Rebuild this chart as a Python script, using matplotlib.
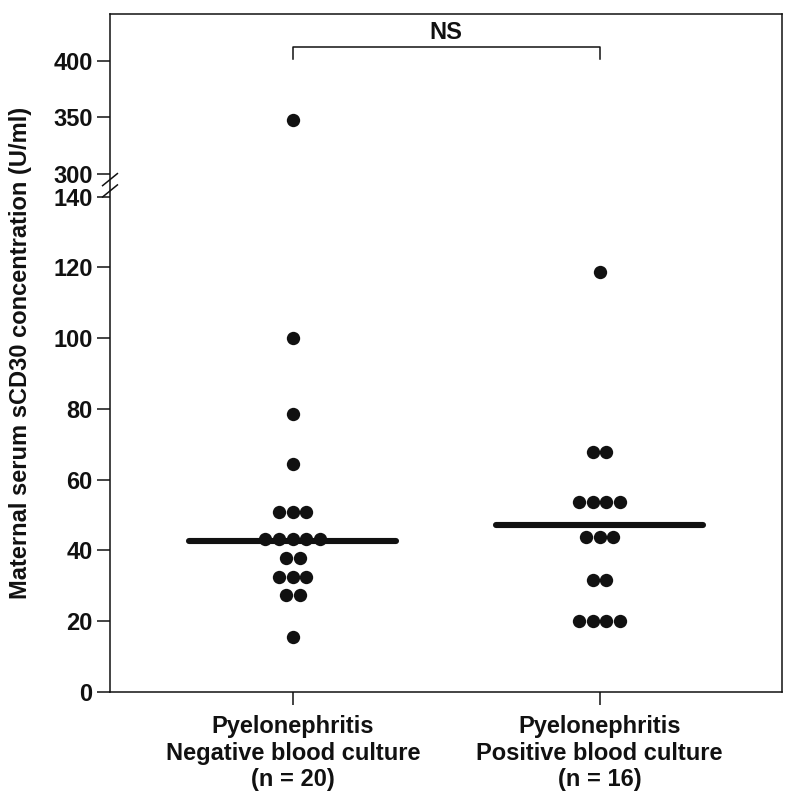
import numpy as np
import matplotlib
matplotlib.use('Agg')
import matplotlib.pyplot as plt
from matplotlib import transforms

plt.rcParams['font.family'] = ['Liberation Sans', 'DejaVu Sans']
plt.rcParams['font.weight'] = 'bold'

# values (U/ml)
neg_values = [348, 100, 78.5, 64.5,
              51, 51, 51,
              43.3, 43.3, 43.3, 43.3, 43.3,
              37.8, 37.8,
              32.6, 32.6, 32.6,
              27.4, 27.4,
              15.5]
pos_values = [118.6,
              67.7, 67.7,
              53.7, 53.7, 53.7, 53.7,
              43.9, 43.9, 43.9,
              31.7, 31.7,
              20.2, 20.2, 20.2, 20.2]
center_lines = [42.8, 47.2]
group_labels = ['Pyelonephritis\nNegative blood culture\n(n = 20)',
                'Pyelonephritis\nPositive blood culture\n(n = 16)']
yticks = [0, 20, 40, 60, 80, 100, 120, 140, 300, 350, 400]
ylabel = 'Maternal serum sCD30 concentration (U/ml)'
sig_text = 'NS'

# broken y axis: 0-140 linear, gap, then 300+ compressed
LOW_TOP = 140.0
HIGH_BOT = 300.0
GAP = 6.4
HIGH_SCALE = 0.3205


def fwd(v):
    v = np.asarray(v, dtype=float)
    return np.where(v <= LOW_TOP, v,
                    np.where(v >= HIGH_BOT,
                             LOW_TOP + GAP + (v - HIGH_BOT) * HIGH_SCALE,
                             LOW_TOP + (v - LOW_TOP) * GAP / (HIGH_BOT - LOW_TOP)))


def inv(y):
    y = np.asarray(y, dtype=float)
    return np.where(y <= LOW_TOP, y,
                    np.where(y >= LOW_TOP + GAP,
                             HIGH_BOT + (y - LOW_TOP - GAP) / HIGH_SCALE,
                             LOW_TOP + (y - LOW_TOP) * (HIGH_BOT - LOW_TOP) / GAP))


def swarm_offsets(vals, step):
    vals = np.asarray(vals)
    offs = np.zeros(len(vals))
    for v in np.unique(vals):
        idx = np.where(vals == v)[0]
        n = len(idx)
        offs[idx] = (np.arange(n) - (n - 1) / 2) * step
    return offs


fig = plt.figure(figsize=(8, 8.02), dpi=100)
ax = fig.add_axes([110 / 800, 110 / 802, 672 / 800, 678 / 802])
ax.set_yscale('function', functions=(fwd, inv))

ymax = float(inv(191.6))
ax.set_ylim(0, ymax)
ax.set_xlim(0.404, 2.595)

col = '#111111'
step = 0.0446
for i, vals in enumerate([neg_values, pos_values]):
    xpos = i + 1
    ax.plot([xpos - 0.337, xpos + 0.337], [center_lines[i]] * 2, color=col,
            lw=4.4, solid_capstyle='round', zorder=2)
    ax.plot(xpos + swarm_offsets(vals, step), vals, 'o', color=col,
            ms=9.6, mew=0, zorder=3)

# significance bracket
ax.plot([1, 1, 2, 2], [401, 412, 412, 401], color=col, lw=1.1, clip_on=False)
ax.text(1.5, 425, sig_text, ha='center', va='center', fontsize=17,
        fontweight='bold', color=col)

ax.set_yticks(yticks)
ax.set_yticklabels([str(t) for t in yticks])
ax.set_xticks([1, 2])
ax.set_xticklabels(group_labels, linespacing=1.2)
ax.tick_params(axis='both', length=9.5, width=1.1, color=col, labelsize=17,
               labelcolor=col, pad=3)
ax.tick_params(axis='x', pad=7)
for s in ax.spines.values():
    s.set_linewidth(1.1)
    s.set_color(col)

ax.set_ylabel(ylabel, fontsize=17, fontweight='bold', color=col, labelpad=15)

# break marks on the left spine
trans = transforms.blended_transform_factory(ax.transAxes, ax.transData)
dx = 0.011
for yc in [LOW_TOP + 1.6, LOW_TOP + GAP - 1.6]:
    y0 = float(inv(yc - 1.7))
    y1 = float(inv(yc + 1.7))
    ax.plot([-dx, dx], [y0, y1], color=col, lw=1.1, transform=trans,
            clip_on=False)

fig.savefig('out.png', dpi=100)
